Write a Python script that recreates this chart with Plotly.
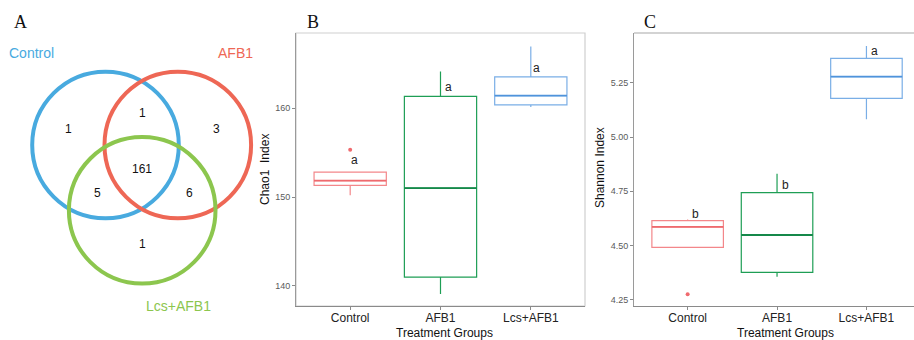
import plotly.graph_objects as go

# ---------------- data ----------------
groups = ["Control", "AFB1", "Lcs+AFB1"]

chao1_lower = [150.2, 139.1, 160.1]
chao1_q1 = [151.3, 141.0, 160.35]
chao1_median = [151.85, 151.0, 161.4]
chao1_q3 = [152.8, 161.3, 163.5]
chao1_upper = [152.8, 164.1, 166.9]
chao1_outlier_group = ["Control"]
chao1_outlier_value = [155.3]
chao1_letters = ["a", "a", "a"]
chao1_letter_y = [154.2, 162.4, 164.5]

shannon_lower = [4.492, 4.357, 5.082]
shannon_q1 = [4.492, 4.377, 5.178]
shannon_median = [4.586, 4.549, 5.278]
shannon_q3 = [4.615, 4.744, 5.362]
shannon_upper = [4.62, 4.831, 5.419]
shannon_outlier_group = ["Control"]
shannon_outlier_value = [4.276]
shannon_letters = ["b", "b", "a"]
shannon_letter_y = [4.647, 4.778, 5.397]

venn_sets = ["Control", "AFB1", "Lcs+AFB1"]
venn_region_names = ["Control only", "Control&AFB1", "AFB1 only", "all",
                     "Control&Lcs", "AFB1&Lcs", "Lcs only"]
venn_counts = [1, 1, 3, 161, 5, 6, 1]

chao1_ticks = [140, 150, 160]
shannon_ticks = [4.25, 4.50, 4.75, 5.00, 5.25]

# ---------------- styles / layout ----------------
W, H = 914, 340
box_line = ["#F3878A", "#1E9E55", "#7AAEE6"]
median_line = ["#EE6A6E", "#15884A", "#4F93DB"]
venn_colors = ["#48AADF", "#EE6755", "#8CC64E"]
box_width = 0.8
letter_dx_b = [0.045, 0.09, 0.066]
letter_dx_c = [0.093, 0.097, 0.095]

# venn geometry in pixels (layout)
venn_centers = [(105.5, 145.0), (177.8, 145.0), (142.2, 210.3)]
venn_r = 73.3
venn_label_pos = [(31, 53), (235, 53), (178, 306)]
venn_region_pos = [(68, 129), (142, 113), (216, 129), (142, 169),
                   (97, 193), (189, 193), (142, 244)]


def px(x):
    return x / W


def py(y):
    return 1 - y / H


FONT = "Arial, Liberation Sans, sans-serif"
SERIF = "Times New Roman, Liberation Serif, serif"
C = dict(xanchor="center", yanchor="middle", showarrow=False)

fig = go.Figure()

xs = [1, 2, 3]


def add_boxes(xaxis, yaxis, lower, q1, med, q3, upper, og, ov):
    for i, g in enumerate(groups):
        fig.add_trace(go.Box(
            x=[xs[i]], lowerfence=[lower[i]], q1=[q1[i]], median=[med[i]],
            q3=[q3[i]], upperfence=[upper[i]], width=box_width,
            whiskerwidth=0, boxpoints=False,
            line=dict(color=box_line[i], width=1.2),
            fillcolor="rgba(0,0,0,0)", xaxis=xaxis, yaxis=yaxis,
            showlegend=False, hoverinfo="skip"))
        fig.add_trace(go.Scatter(
            x=[xs[i] - box_width / 2, xs[i] + box_width / 2],
            y=[med[i], med[i]], mode="lines",
            line=dict(color=median_line[i], width=1.8),
            xaxis=xaxis, yaxis=yaxis, showlegend=False, hoverinfo="skip"))
    fig.add_trace(go.Scatter(
        x=[xs[groups.index(g)] for g in og], y=ov, mode="markers",
        marker=dict(color="#F06A6E", size=4),
        xaxis=xaxis, yaxis=yaxis, showlegend=False, hoverinfo="skip"))


add_boxes("x", "y", chao1_lower, chao1_q1, chao1_median, chao1_q3,
          chao1_upper, chao1_outlier_group, chao1_outlier_value)
add_boxes("x2", "y2", shannon_lower, shannon_q1, shannon_median, shannon_q3,
          shannon_upper, shannon_outlier_group, shannon_outlier_value)

annotations = []
for i in range(3):
    annotations.append(dict(x=xs[i] + letter_dx_b[i], y=chao1_letter_y[i],
                            xref="x", yref="y", text=chao1_letters[i],
                            font=dict(family=FONT, size=12, color="#222"), **C))
    annotations.append(dict(x=xs[i] + letter_dx_c[i], y=shannon_letter_y[i],
                            xref="x2", yref="y2", text=shannon_letters[i],
                            font=dict(family=FONT, size=12, color="#222"), **C))

# venn
shapes = []
for (cx, cy), col in zip(venn_centers, venn_colors):
    shapes.append(dict(type="circle", xref="x3", yref="y3",
                       x0=cx - venn_r, x1=cx + venn_r, y0=cy - venn_r, y1=cy + venn_r,
                       line=dict(color=col, width=4)))
for name, (lx, ly), col in zip(venn_sets, venn_label_pos, venn_colors):
    annotations.append(dict(x=lx, y=ly, xref="x3", yref="y3", text=name,
                            font=dict(family=FONT, size=14, color=col), **C))
for cnt, (rx, ry) in zip(venn_counts, venn_region_pos):
    annotations.append(dict(x=rx, y=ry, xref="x3", yref="y3", text=str(cnt),
                            font=dict(family=FONT, size=12, color="#111"), **C))

# panel letters
for t, x in [("A", 20), ("B", 313), ("C", 650)]:
    annotations.append(dict(x=px(x), y=py(22), xref="paper", yref="paper", text=t,
                            font=dict(family=SERIF, size=18, color="#111"), **C))

# axis titles
annotations += [
    dict(x=px(265), y=py(170), xref="paper", yref="paper", text="Chao1 \u00a0Index",
         textangle=-90, font=dict(family=FONT, size=12, color="#111"), **C),
    dict(x=px(600), y=py(168), xref="paper", yref="paper", text="Shannon Index",
         textangle=-90, font=dict(family=FONT, size=12, color="#111"), **C),
    dict(x=px(444), y=py(333), xref="paper", yref="paper", text="Treatment Groups",
         font=dict(family=FONT, size=12, color="#111"), **C),
    dict(x=px(785), y=py(333), xref="paper", yref="paper", text="Treatment Groups",
         font=dict(family=FONT, size=12, color="#111"), **C),
]

# frame lines (light top/right)
shapes.append(dict(type="rect", xref="x domain", yref="y domain", x0=0, x1=1, y0=0, y1=1,
                   line=dict(color="#CFCFCF", width=1.2), layer="below"))
shapes.append(dict(type="line", xref="x2 domain", yref="y2 domain", x0=0, x1=1, y0=1, y1=1,
                   line=dict(color="#C4C4C4", width=1.5), layer="below"))

xaxis_common = dict(tickmode="array", tickvals=xs, ticktext=groups,
                    showgrid=False, zeroline=False, showline=True, linecolor="#8A8A8A",
                    linewidth=1, ticks="outside", ticklen=3, tickcolor="#8A8A8A",
                    ticklabelstandoff=-2,
                    tickfont=dict(family=FONT, size=12, color="#222"))
yaxis_common = dict(showgrid=False, zeroline=False, showline=True, linecolor="#9A9A9A",
                    linewidth=1, ticks="outside", ticklen=3, tickcolor="#8A8A8A",
                    tickfont=dict(family=FONT, size=9, color="#5a5a5a"))

dom_y = [py(306), py(33)]

fig.update_layout(
    width=W, height=H, margin=dict(l=0, r=0, t=0, b=0),
    paper_bgcolor="white", plot_bgcolor="white", showlegend=False,
    xaxis=dict(domain=[px(296), px(585)], range=[0.4, 3.6], anchor="y", **xaxis_common),
    yaxis=dict(domain=dom_y, range=[137.75, 168.43], anchor="x", tickvals=chao1_ticks,
               **yaxis_common),
    xaxis2=dict(domain=[px(634), 1.0], range=[0.4, 3.532], anchor="y2", **xaxis_common),
    yaxis2=dict(domain=dom_y, range=[4.222, 5.479], anchor="x2", tickvals=shannon_ticks,
                tickformat=".2f", **yaxis_common),
    xaxis3=dict(domain=[0, px(290)], range=[0, 290], visible=False, anchor="y3"),
    yaxis3=dict(domain=[0, 1], range=[340, 0], visible=False, anchor="x3"),
    shapes=shapes, annotations=annotations,
)

fig.write_html("out.html")
